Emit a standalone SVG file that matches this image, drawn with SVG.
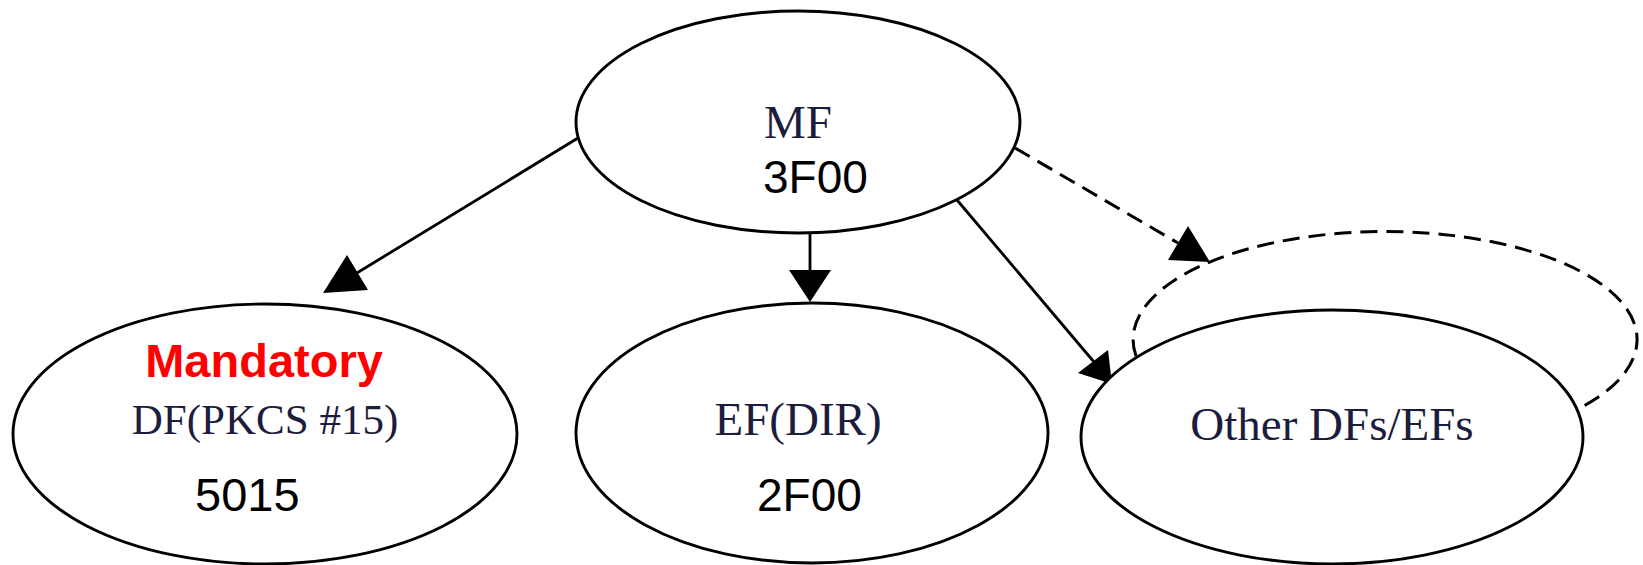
<svg xmlns="http://www.w3.org/2000/svg" width="1643" height="565" viewBox="0 0 1643 565">
<style>
.node{fill:#fff;stroke:#000;stroke-width:2.9}
.edge{fill:none;stroke:#000;stroke-width:2.8}
.dash{stroke-width:3;stroke-dasharray:17 9}
.head{fill:#000;stroke:none}
.serif{font-family:"Liberation Serif","Times New Roman",serif;fill:#1c1c3c}
.sans{font-family:"Liberation Sans",Arial,sans-serif;fill:#000}
</style>
<rect width="1643" height="565" fill="#fff"/>
<g id="connectors">
<line class="edge" x1="578" y1="138" x2="352" y2="276"/>
<polygon class="head" points="323,293 368,290 347,255"/>
<line class="edge" x1="810" y1="233" x2="810" y2="272"/>
<polygon class="head" points="789,270 831,270 810,302"/>
<line class="edge" x1="957" y1="200" x2="1094" y2="362"/>
<polygon class="head" points="1078,373 1108,350 1112,384"/>
<line class="edge dash" x1="1015" y1="148" x2="1178" y2="243"/>
<polygon class="head" points="1210,262 1168,260 1188,226"/>
<path class="edge dash" d="M 1136 356 A 252 108 0 1 1 1580 408"/>
</g>
<g id="node-mf">
<ellipse class="node" cx="798" cy="122" rx="222" ry="111"/>
<text class="serif" x="798" y="138" font-size="47" text-anchor="middle">MF</text>
<text class="sans" x="763" y="193" font-size="46">3F00</text>
</g>
<g id="node-df">
<ellipse class="node" cx="265" cy="434" rx="252" ry="130"/>
<text x="264" y="377" font-size="47" font-weight="bold" text-anchor="middle" font-family="'Liberation Sans',Arial,sans-serif" fill="#ff0000">Mandatory</text>
<text class="serif" x="265" y="434" font-size="43" text-anchor="middle">DF(PKCS #15)</text>
<text class="sans" x="195" y="511" font-size="47">5015</text>
</g>
<g id="node-ef">
<ellipse class="node" cx="812" cy="433" rx="236" ry="130"/>
<text class="serif" x="798" y="435" font-size="47" text-anchor="middle">EF(DIR)</text>
<text class="sans" x="757" y="511" font-size="46">2F00</text>
</g>
<g id="node-other">
<ellipse class="node" cx="1332" cy="437" rx="251" ry="127"/>
<text class="serif" x="1332" y="440" font-size="47" text-anchor="middle">Other DFs/EFs</text>
</g>
</svg>
